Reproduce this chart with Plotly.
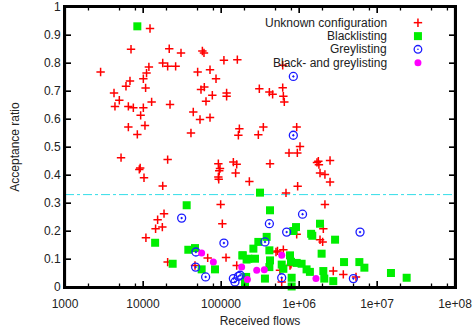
import plotly.graph_objects as go

# ---------------- data ----------------
unknown_x = [2860, 4250, 4370, 4970, 5230, 6050, 6490, 6490, 6810, 7020, 7520, 8460, 8970, 9200,
             9330, 10100, 10100, 10300, 10600, 10800, 11100, 11900, 12300, 12900, 10900, 14500,
             15400, 17700, 18600, 17900, 17900, 20700, 21700, 22200, 20700, 26200, 30700, 20700,
             41200, 44100, 50200, 53800, 55400, 57700, 60500, 61100, 64200, 72300, 72300, 77400,
             86300, 92500, 92500, 97100, 95000, 93500, 99000, 104000, 109000, 118000, 118000,
             116000, 144000, 154000, 159000, 162000, 172000, 167000, 231000, 310000, 301000,
             349000, 417000, 459000, 425000, 618000, 618000, 630000, 648000, 681000, 745000,
             934000, 952000, 1030000, 961000, 1770000, 1800000, 1700000, 1860000, 2150000,
             2500000, 2500000, 2150000, 1860000, 2010000, 2050000, 934000, 2750000, 3700000,
             5380000, 630000, 530000, 600000, 159000, 67500, 46400, 767000, 507000, 570000, 789000]
unknown_y = [0.768, 0.693, 0.645, 0.667, 0.462, 0.717, 0.571, 0.645, 0.736, 0.849, 0.640, 0.545, 0.420, 0.425,
             0.613, 0.640, 0.744, 0.390, 0.577, 0.711, 0.764, 0.786, 0.923, 0.661, 0.176, 0.208,
             0.240, 0.214, 0.262, 0.361, 0.800, 0.788, 0.851, 0.652, 0.455, 0.788, 0.836, 0.089,
             0.550, 0.625, 0.768, 0.598, 0.705, 0.843, 0.836, 0.714, 0.663, 0.776, 0.605, 0.685,
             0.744, 0.440, 0.393, 0.423, 0.415, 0.385, 0.295, 0.226, 0.810, 0.693, 0.681,
             0.105, 0.446, 0.407, 0.438, 0.812, 0.565, 0.542, 0.377, 0.708, 0.544,
             0.571, 0.696, 0.688, 0.440, 0.792, 0.712, 0.681, 0.661, 0.336, 0.479,
             0.571, 0.479, 0.502, 0.360, 0.449, 0.437, 0.445, 0.407, 0.402,
             0.452, 0.375, 0.295, 0.169, 0.161, 0.208, 0.188, 0.057, 0.045,
             0.036, 0.133, 0.129, 0.018, 0.077, 0.104, 0.077, 0.077, 0.125, 0.060, 0.081]

black_x = [8460, 36300, 316000, 425000, 14300, 38100, 46400, 24000, 56500, 83800, 190000, 213000,
           224000, 273000, 260000, 301000, 385000, 417000, 425000, 417000, 366000, 203000, 210000,
           630000, 600000, 767000, 805000, 805000, 916000, 846000, 1430000, 1480000, 1860000,
           1950000, 934000, 1080000, 1250000, 1380000, 2050000, 2110000, 2750000, 2900000,
           3780000, 5940000, 6890000, 15100000, 24000000, 790000, 188000]
black_y = [0.931, 0.292, 0.337, 0.274, 0.158, 0.133, 0.139, 0.083, 0.063, 0.063, 0.113, 0.098,
           0.101, 0.101, 0.137, 0.161, 0.179, 0.131, 0.095, 0.071, 0.030, 0.012, 0.036,
           0.065, 0.080, 0.113, 0.033, 0.002, 0.214, 0.200, 0.190, 0.183, 0.226,
           0.119, 0.086, 0.083, 0.063, 0.054, 0.057, 0.030, 0.021, 0.169,
           0.089, 0.089, 0.069, 0.050, 0.033, 0.090, 0.113]

grey_x = [846000, 846000, 1110000, 417000, 695000, 6060000, 31300, 109000, 366000, 47700, 47300,
          63500, 144000, 151000, 167000, 176000, 600000, 4980000]
grey_y = [0.752, 0.542, 0.260, 0.226, 0.196, 0.196, 0.246, 0.157, 0.161, 0.125, 0.071,
          0.036, 0.030, 0.018, 0.038, 0.042, 0.033, 0.030]

both_x = [56500, 79800, 184000, 218000, 287000, 359000, 600000, 1650000]
both_y = [0.121, 0.089, 0.071, 0.027, 0.060, 0.062, 0.113, 0.030]

threshold = 0.33

series_names = ["Unknown configuration", "Blacklisting", "Greylisting", "Black- and greylisting"]

x_tickvals = [1e3, 1e4, 1e5, 1e6, 1e7, 1e8]
x_ticktext = ["1000", "10000", "100000", "1e+06", "1e+07", "1e+08"]
x_minorvals = [m * d for d in (1e3, 1e4, 1e5, 1e6, 1e7) for m in (2, 5, 8)]
y_tickvals = [0, 0.1, 0.2, 0.3, 0.4, 0.5, 0.6, 0.7, 0.8, 0.9, 1]
y_ticktext = ["0", "0.1", "0.2", "0.3", "0.4", "0.5", "0.6", "0.7", "0.8", "0.9", "1"]

# ---------------- styles ----------------
RED = "#ff0000"
GREEN = "#00ee00"
BLUE = "#1a1aff"
MAGENTA = "#ff00ff"
CYAN = "#33dde8"
TXT = "#222222"
FONT = "Liberation Sans, Arial, sans-serif"

W, H = 473, 333
ML, MR, MT, MB = 65, 18, 7, 46
PW, PH = W - ML - MR, H - MT - MB
MAJOR_LEN = 6.0
MINOR_LEN = 3.5

styles = [
    dict(symbol="cross-thin", size=6, color=RED, line=dict(color=RED, width=1.5)),
    dict(symbol="square", size=8, color=GREEN, line=dict(width=0)),
    dict(symbol="circle-open-dot", size=8, color=BLUE, line=dict(color=BLUE, width=1.3)),
    dict(symbol="circle", size=7, color=MAGENTA, line=dict(width=0)),
]

fig = go.Figure()

fig.add_hline(y=threshold, line=dict(color=CYAN, width=1, dash="dashdot"), layer="below")

for (xs, ys), name, st in zip([(unknown_x, unknown_y), (black_x, black_y), (grey_x, grey_y), (both_x, both_y)],
                               series_names, styles):
    fig.add_trace(go.Scatter(x=xs, y=ys, mode="markers", name=name, marker=st,
                             showlegend=False, cliponaxis=False))

# ---------------- frame and tick marks (gnuplot border, mirrored ticks) ----------------
tick_line = dict(color="black", width=1.3)
for v in x_tickvals[1:-1]:
    fig.add_shape(type="line", xref="x", yref="paper", x0=v, x1=v, y0=0, y1=MAJOR_LEN / PH, line=tick_line)
    fig.add_shape(type="line", xref="x", yref="paper", x0=v, x1=v, y0=1, y1=1 - MAJOR_LEN / PH, line=tick_line)
for v in x_minorvals:
    fig.add_shape(type="line", xref="x", yref="paper", x0=v, x1=v, y0=0, y1=MINOR_LEN / PH, line=tick_line)
    fig.add_shape(type="line", xref="x", yref="paper", x0=v, x1=v, y0=1, y1=1 - MINOR_LEN / PH, line=tick_line)
for v in y_tickvals[1:-1]:
    fig.add_shape(type="line", xref="paper", yref="y", x0=0, x1=MAJOR_LEN / PW, y0=v, y1=v, line=tick_line)
    fig.add_shape(type="line", xref="paper", yref="y", x0=1, x1=1 - MAJOR_LEN / PW, y0=v, y1=v, line=tick_line)
fig.add_shape(type="rect", xref="paper", yref="paper", x0=0, x1=1, y0=0, y1=1,
              line=dict(color="black", width=2.2), fillcolor="rgba(0,0,0,0)", layer="above")

# ---------------- gnuplot-style key (text right, symbol at its right) ----------------
key_text_x = 0.831
key_sym_x = 0.905
key_rows = [0.944, 0.896, 0.849, 0.801]


def px_x(p):
    return p / PW


def px_y(p):
    return p / PH


for name, ry in zip(series_names, key_rows):
    fig.add_annotation(x=key_text_x, y=ry, xref="paper", yref="paper", text=name,
                       showarrow=False, xanchor="right", yanchor="middle",
                       font=dict(family=FONT, size=12, color=TXT))

cx = key_sym_x
r0 = key_rows[0]
fig.add_shape(type="line", xref="paper", yref="paper", x0=cx - px_x(4.2), x1=cx + px_x(4.2), y0=r0, y1=r0,
              line=dict(color=RED, width=1.5))
fig.add_shape(type="line", xref="paper", yref="paper", x0=cx, x1=cx, y0=r0 - px_y(4.2), y1=r0 + px_y(4.2),
              line=dict(color=RED, width=1.5))
r1 = key_rows[1]
fig.add_shape(type="rect", xref="paper", yref="paper", x0=cx - px_x(4), x1=cx + px_x(4),
              y0=r1 - px_y(4), y1=r1 + px_y(4), fillcolor=GREEN, line=dict(width=0))
r2 = key_rows[2]
fig.add_shape(type="circle", xref="paper", yref="paper", x0=cx - px_x(3.8), x1=cx + px_x(3.8),
              y0=r2 - px_y(3.8), y1=r2 + px_y(3.8), line=dict(color=BLUE, width=1.3))
fig.add_shape(type="circle", xref="paper", yref="paper", x0=cx - px_x(0.8), x1=cx + px_x(0.8),
              y0=r2 - px_y(0.8), y1=r2 + px_y(0.8), fillcolor=BLUE, line=dict(width=0))
r3 = key_rows[3]
fig.add_shape(type="circle", xref="paper", yref="paper", x0=cx - px_x(3.5), x1=cx + px_x(3.5),
              y0=r3 - px_y(3.5), y1=r3 + px_y(3.5), fillcolor=MAGENTA, line=dict(width=0))

axis_common = dict(showgrid=False, zeroline=False, showline=True, linecolor="black", linewidth=2,
                   mirror="ticks", ticks="inside", ticklen=6, tickwidth=1.3, tickcolor="black",
                   automargin=False, ticklabeloverflow="allow",
                   tickfont=dict(family=FONT, size=12, color=TXT))

fig.update_layout(
    width=W, height=H,
    margin=dict(l=ML, r=MR, t=MT, b=MB, autoexpand=False),
    paper_bgcolor="white", plot_bgcolor="white",
    font=dict(family=FONT, size=12, color=TXT),
    showlegend=False,
    xaxis=dict(type="log", range=[3, 8], tickmode="array", tickvals=x_tickvals, ticktext=x_ticktext,
               ticklabelstandoff=5,
               title=dict(text="Received flows", font=dict(family=FONT, size=12, color=TXT),
                          standoff=6),
               **axis_common),
    yaxis=dict(range=[0, 1], tickmode="array", tickvals=y_tickvals, ticktext=y_ticktext,
               title=dict(text="Acceptance ratio", font=dict(family=FONT, size=12, color=TXT),
                          standoff=22),
               **axis_common),
)

fig.write_html("out.html", config={"displayModeBar": False},
               post_script="document.body.style.margin='0px';")
